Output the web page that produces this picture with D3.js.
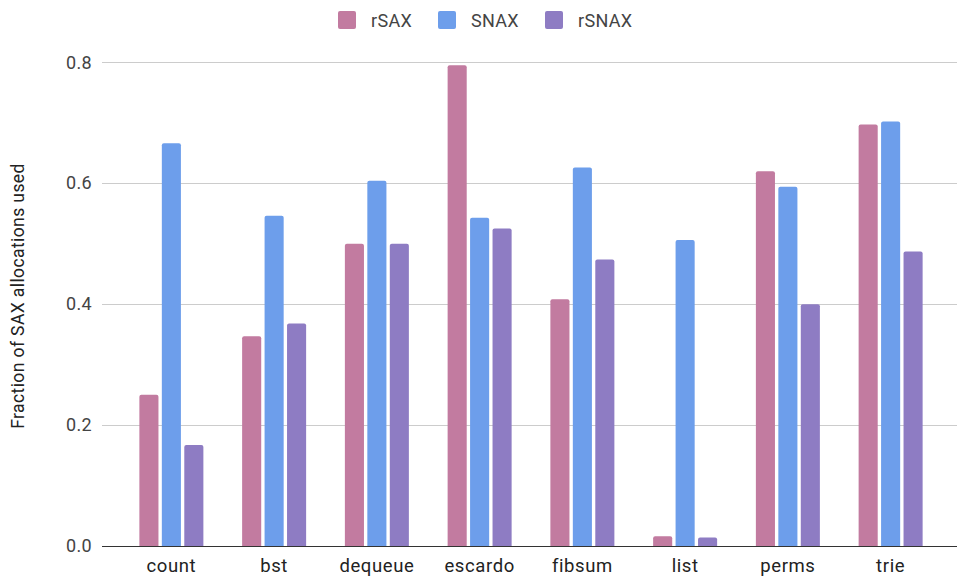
<!DOCTYPE html>
<html>
<head>
<meta charset="utf-8">
<script src="https://cdn.jsdelivr.net/npm/d3@7"></script>
<style>
  html, body { margin: 0; padding: 0; background: #fff; }
  svg { display: block; font-family: Roboto, "Liberation Sans", Arial, sans-serif; }
</style>
</head>
<body>
<svg id="chart" width="958" height="578"></svg>
<script>
// Benchmarks on the x axis
const categories = ["count", "bst", "dequeue", "escardo", "fibsum", "list", "perms", "trie"];

// Series names, in legend order
const seriesNames = ["rSAX", "SNAX", "rSNAX"];

// Fraction of SAX allocations used, per benchmark
const rSAX  = [0.25, 0.347, 0.50, 0.795, 0.408, 0.016, 0.620, 0.697];
const SNAX  = [0.666, 0.546, 0.604, 0.543, 0.626, 0.506, 0.594, 0.702];
const rSNAX = [0.167, 0.368, 0.50, 0.525, 0.474, 0.014, 0.400, 0.487];

const yTicks = [0, 0.2, 0.4, 0.6, 0.8];
const colors = ["#c27ba0", "#6d9eeb", "#8e7cc3"];

const seriesValues = [rSAX, SNAX, rSNAX];

const svg = d3.select("#chart");
const plotLeft = 102, plotRight = 957, plotTop = 62, plotBottom = 546;

const y = d3.scaleLinear().domain([0, 0.8]).range([plotBottom, plotTop + 0.3]);
const x = d3.scaleBand().domain(categories).range([120, 942]).padding(0);
const groupWidth = 64;
const xs = d3.scaleBand().domain(seriesNames).range([0, groupWidth]).paddingInner(0.15);

// Horizontal grid lines
svg.append("g")
  .selectAll("line")
  .data(yTicks.filter(t => t > 0))
  .join("line")
  .attr("x1", plotLeft).attr("x2", plotRight)
  .attr("y1", d => Math.round(y(d)) + 0.5).attr("y2", d => Math.round(y(d)) + 0.5)
  .attr("stroke", "#cccccc").attr("stroke-width", 1);

// Y tick labels
const yAxis = d3.axisLeft(y).tickValues(yTicks).tickFormat(d3.format(".1f")).tickSize(0).tickPadding(0);
const yg = svg.append("g").attr("transform", `translate(${92},0)`).call(yAxis);
yg.select(".domain").remove();
yg.selectAll("text")
  .attr("font-size", 18).attr("letter-spacing", 0.3).attr("fill", "#444").attr("font-family", "Roboto, sans-serif");

// Bars
const barPath = (x0, w, yTop, yBase, r) => {
  r = Math.min(r, (yBase - yTop) / 2, w / 2);
  return `M${x0},${yBase}V${yTop + r}Q${x0},${yTop} ${x0 + r},${yTop}H${x0 + w - r}Q${x0 + w},${yTop} ${x0 + w},${yTop + r}V${yBase}Z`;
};

seriesNames.forEach((name, si) => {
  svg.append("g")
    .selectAll("path")
    .data(categories.map((c, i) => ({ c, v: seriesValues[si][i] })))
    .join("path")
    .attr("d", d => {
      const x0 = x(d.c) + (x.bandwidth() - groupWidth) / 2 + xs(name);
      return barPath(x0, xs.bandwidth(), y(d.v), y(0), 2);
    })
    .attr("fill", colors[si]);
});

// Baseline
svg.append("line")
  .attr("x1", plotLeft).attr("x2", plotRight)
  .attr("y1", Math.round(y(0)) + 0.5).attr("y2", Math.round(y(0)) + 0.5)
  .attr("stroke", "#333").attr("stroke-width", 1);

// X labels
const xAxis = d3.axisBottom(x).tickSize(0).tickPadding(0);
const xg = svg.append("g").attr("transform", `translate(0,${557})`).call(xAxis);
xg.select(".domain").remove();
xg.selectAll("text")
  .attr("dy", "0.82em")
  .attr("font-size", 18.5).attr("letter-spacing", 0.6).attr("fill", "#222").attr("font-family", "Roboto, sans-serif");

// Y axis title
svg.append("text")
  .attr("transform", `translate(24,${296}) rotate(-90)`)
  .attr("text-anchor", "middle")
  .attr("font-size", 17.5).attr("letter-spacing", 0.4).attr("fill", "#222")
  .text("Fraction of SAX allocations used");

// Legend
const legendX = [338, 438, 545];
const legend = svg.append("g");
seriesNames.forEach((name, i) => {
  legend.append("rect")
    .attr("x", legendX[i]).attr("y", 11).attr("width", 18).attr("height", 18)
    .attr("rx", 2).attr("fill", colors[i]);
  legend.append("text")
    .attr("x", legendX[i] + 33).attr("y", 27)
    .attr("font-size", 18).attr("letter-spacing", 0.3).attr("fill", "#444")
    .text(name);
});
</script>
</body>
</html>
